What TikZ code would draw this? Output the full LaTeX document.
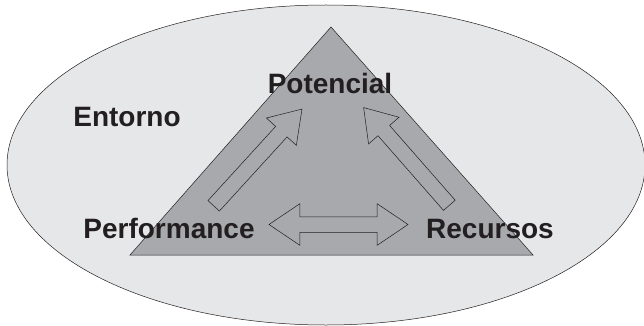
\documentclass[tikz,border=0pt]{standalone}
\usepackage{fontspec}
\setmainfont{Liberation Sans}
\usetikzlibrary{shapes.arrows}
\definecolor{EInk}{HTML}{231F20}
\definecolor{EEnv}{HTML}{E6E7E8}
\definecolor{ETri}{HTML}{A7A9AC}

\begin{document}
\begin{tikzpicture}[x=1pt, y=-1pt,
  every node/.style={font=\fontsize{28}{32}\selectfont\bfseries, text=EInk},
  tag/.style={anchor=base, inner sep=0pt},
  blk/.style={draw=EInk, fill=ETri, line width=0.5pt, inner xsep=0pt, inner ysep=7.5pt},
  one/.style={blk, single arrow, single arrow head extend=12.5pt,
              single arrow tip angle=67, anchor=tail},
  two/.style={blk, double arrow, double arrow head extend=13pt,
              double arrow tip angle=68},
]
\useasboundingbox (0,0) rectangle (644,326);
\draw[EInk, fill=EEnv, line width=0.5pt] (326,165) ellipse [x radius=319, y radius=160];
\coordinate (apex) at (331,27);
\coordinate (bl) at (130,255);
\coordinate (br) at (533,255);
\draw[EInk, fill=ETri, line width=0.5pt] (apex) -- (bl) -- (br) -- cycle;

\node[tag] (ent)  at (127,126) {Entorno};
\node[tag] (pot)  at (330,94)  {Potencial};
\node[tag] (perf) at (169,238) {Performance};
\node[tag] (rec)  at (490,238) {Recursos};

\node[one, rotate=47.6, minimum height=131pt]   (perfpot) at (213.5,206) {};
\node[one, rotate=131.25, minimum height=130pt] (recpot)  at (449.5,205.5) {};
\node[two, minimum height=139pt] (perfrec) at (338.5,224.5) {};
\end{tikzpicture}
\end{document}
